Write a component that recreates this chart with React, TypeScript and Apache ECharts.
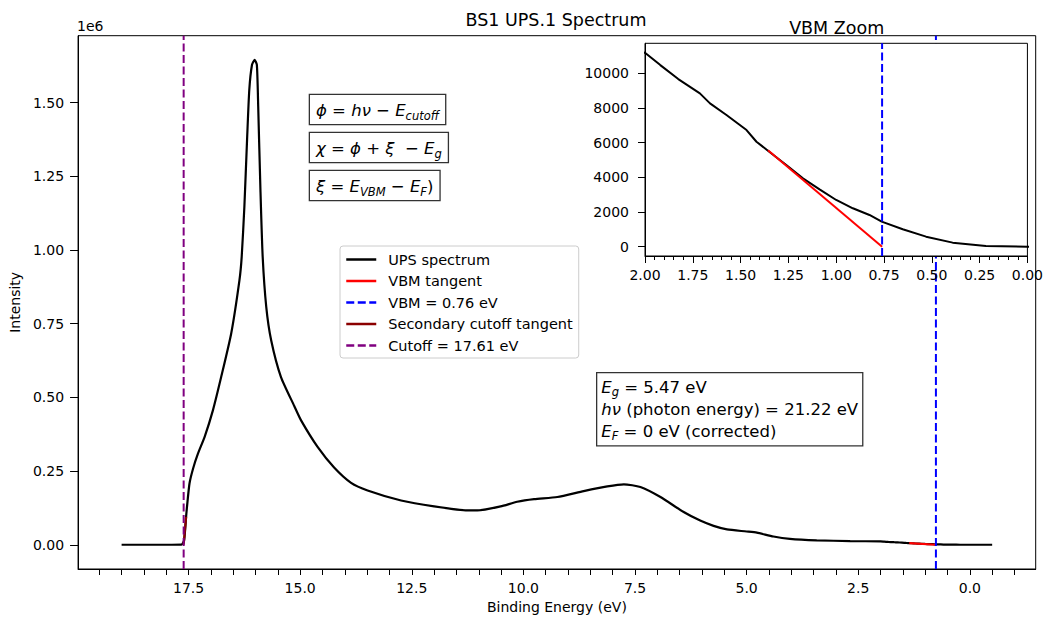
import React, { useEffect, useRef } from "react";
import * as echarts from "echarts";

// ---- data ----
const energy = [
  19.0, 18.5, 18.0, 17.66, 17.6, 17.55, 17.48, 17.4, 17.29, 17.14, 16.955, 16.77, 16.545,
  16.36, 16.31, 16.25, 16.19, 16.14, 16.08, 16.02, 15.97, 15.94, 15.89, 15.84, 15.76, 15.65,
  15.43, 15.13, 14.98, 14.61, 14.24, 13.86, 13.49, 12.74, 12.0, 11.25, 11.03, 10.51, 10.14,
  9.76, 9.24, 8.65, 8.12, 7.75, 7.38, 6.93, 6.41, 6.04, 5.74, 5.44, 5.0, 4.77, 4.4, 4.03,
  3.43, 2.68, 2.0, 1.92, 1.826, 1.713, 1.66, 1.574, 1.469, 1.417, 1.357, 1.261, 1.174, 1.087,
  1.0, 0.913, 0.826, 0.762, 0.652, 0.53, 0.391, 0.217, 0.0, -0.25, -0.5,
];
const intensity = [
  0, 0, 0, 500, 15000, 105000, 207000, 258000, 309000, 366000, 456000, 569000, 717000,
  898000, 977000, 1147000, 1373000, 1543000, 1628000, 1645000, 1628000, 1486000, 1203000, 977000, 807000, 694000,
  569000, 470000, 422000, 332000, 262000, 210000, 184000, 150000, 130000, 116500, 116500, 130000, 146000,
  155000, 162000, 182000, 198000, 205000, 196000, 162000, 111000, 82000, 64000, 52000, 45000, 41000, 28000, 20000,
  15000, 12500, 11182, 10473, 9666, 8841, 8265, 7591, 6726, 6052, 5533, 4709, 3942, 3308,
  2692, 2213, 1827, 1441, 1003, 576, 231, 40, 0, 0, 0,
];
const vbmTangentE = [1.357, 0.76];
const vbmTangentI = [5560, 0];
const cutoffTangentE = [17.61, 17.555];
const cutoffTangentI = [0, 95000];
const VBM = 0.76;
const CUTOFF = 17.61;

const xLabelValues = [17.5, 15, 12.5, 10, 7.5, 5, 2.5, 0];
const yLabelValues = [0, 250000, 500000, 750000, 1000000, 1250000, 1500000];
const insetYLabelValues = [0, 2000, 4000, 6000, 8000, 10000];

const X_MIN = -1.475;
const X_MAX = 19.975;
const Y_MIN = -82250;
const Y_MAX = 1727250;
const INSET_X_MIN = 0;
const INSET_X_MAX = 2;
const INSET_Y_MIN = -540;
const INSET_Y_MAX = 11730;

const xMinorTicks: number[] = [];
for (let k = -2; k <= 39; k++) xMinorTicks.push(k * 0.5);

const FONT = "DejaVu Sans";

const spectrum = energy.map((e, i) => [e, intensity[i]]);
const vbmTangent = vbmTangentE.map((e, i) => [e, vbmTangentI[i]]);
const cutoffTangent = cutoffTangentE.map((e, i) => [e, cutoffTangentI[i]]);

export default function App() {
  const ref = useRef<HTMLDivElement>(null);
  useEffect(() => {
    if (!ref.current) return;
    const chart = echarts.init(ref.current, null, { renderer: "svg" });
    const axisText = { fontFamily: FONT, fontSize: 14, color: "#000" };
    const axisLine = { show: true, onZero: false, lineStyle: { color: "#000", width: 1 } };
    const formulaBase = {
      fontFamily: FONT,
      fontSize: 16.5,
      lineHeight: 24,
      fill: "#000",
      backgroundColor: "#fff",
      borderColor: "#333",
      borderWidth: 1.3,
      padding: [3, 6, 2, 6],
      align: "left",
      textAlign: "left",
      verticalAlign: "top",
      textVerticalAlign: "top",
      rich: {
        i: { fontFamily: FONT, fontStyle: "italic", fontSize: 16.5, lineHeight: 24 },
        s: { fontFamily: FONT, fontStyle: "italic", fontSize: 11.5, lineHeight: 13, verticalAlign: "bottom" },
      },
    };
    const option: any = {
      animation: false,
      backgroundColor: "#fff",
      grid: [
        { left: 76, top: 35.7, width: 959.7, height: 533.6, show: true, borderColor: "#000", borderWidth: 1, backgroundColor: "transparent", z: 0 },
        { left: 645, top: 43.3, width: 383.3, height: 212.7, show: true, borderColor: "#000", borderWidth: 1, backgroundColor: "#fff", z: 5 },
      ],
      xAxis: [
        {
          type: "value", gridIndex: 0, min: X_MIN, max: X_MAX, inverse: true,
          axisLine,
          axisTick: { show: true, customValues: xMinorTicks, length: 6, lineStyle: { color: "#000", width: 1 } },
          axisLabel: { customValues: xLabelValues, formatter: (v: number) => v.toFixed(1), margin: 12, ...axisText },
          splitLine: { show: false },
          name: "Binding Energy (eV)", nameLocation: "middle", nameGap: 31,
          nameTextStyle: { fontFamily: FONT, fontSize: 14, color: "#000" },
        },
        {
          type: "value", gridIndex: 1, min: INSET_X_MIN, max: INSET_X_MAX, interval: 0.25, inverse: true, z: 7,
          axisLine,
          axisTick: { show: true, length: 7, lineStyle: { color: "#000", width: 1 } },
          minorTick: { show: true, splitNumber: 5, length: 4, lineStyle: { color: "#000", width: 1 } },
          axisLabel: { formatter: (v: number) => v.toFixed(2), margin: 12, ...axisText },
          splitLine: { show: false },
        },
      ],
      yAxis: [
        {
          type: "value", gridIndex: 0, min: Y_MIN, max: Y_MAX,
          axisLine,
          axisTick: { show: true, customValues: yLabelValues, length: 8, lineStyle: { color: "#000", width: 1 } },
          axisLabel: { customValues: yLabelValues, formatter: (v: number) => (v / 1e6).toFixed(2), margin: 14, ...axisText },
          splitLine: { show: false },
          name: "Intensity", nameLocation: "middle", nameGap: 50,
          nameTextStyle: { fontFamily: FONT, fontSize: 14, color: "#000" },
        },
        {
          type: "value", gridIndex: 1, min: INSET_Y_MIN, max: INSET_Y_MAX, z: 7,
          axisLine,
          axisTick: { show: true, customValues: insetYLabelValues, length: 7, lineStyle: { color: "#000", width: 1 } },
          axisLabel: { customValues: insetYLabelValues, formatter: (v: number) => String(v), margin: 16, ...axisText },
          splitLine: { show: false },
        },
      ],
      legend: {
        data: ["UPS spectrum", "VBM tangent", "VBM = 0.76 eV", "Secondary cutoff tangent", "Cutoff = 17.61 eV"],
        orient: "vertical", left: 340, top: 246,
        padding: [6, 6, 5, 5], itemWidth: 30, itemHeight: 14, itemGap: 6.5,
        itemStyle: { opacity: 0 },
        lineStyle: { width: 2.5 },
        textStyle: { fontFamily: FONT, fontSize: 14.5, color: "#000", padding: [0, 0, 0, 7] },
        borderColor: "#cccccc", borderWidth: 1, borderRadius: 3,
        backgroundColor: "rgba(255,255,255,0.8)", selectedMode: false, z: 4,
      },
      series: [
        { name: "UPS spectrum", type: "line", xAxisIndex: 0, yAxisIndex: 0, data: spectrum, symbol: "none", smooth: 0.2, lineStyle: { color: "#000", width: 2.2 }, itemStyle: { color: "#000" }, z: 2 },
        { name: "VBM tangent", type: "line", xAxisIndex: 0, yAxisIndex: 0, data: vbmTangent, symbol: "none", lineStyle: { color: "#ff0000", width: 2.2 }, itemStyle: { color: "#ff0000" }, z: 3 },
        { name: "VBM = 0.76 eV", type: "line", xAxisIndex: 0, yAxisIndex: 0, data: [[VBM, Y_MIN], [VBM, Y_MAX]], symbol: "none", lineStyle: { color: "#0000ff", width: 2, type: [8, 3.5] }, itemStyle: { color: "#0000ff" }, z: 3 },
        { name: "Secondary cutoff tangent", type: "line", xAxisIndex: 0, yAxisIndex: 0, data: cutoffTangent, symbol: "none", lineStyle: { color: "#8b0000", width: 2.2 }, itemStyle: { color: "#8b0000" }, z: 3 },
        { name: "Cutoff = 17.61 eV", type: "line", xAxisIndex: 0, yAxisIndex: 0, data: [[CUTOFF, Y_MIN], [CUTOFF, Y_MAX]], symbol: "none", lineStyle: { color: "#800080", width: 2, type: [8, 3.5] }, itemStyle: { color: "#800080" }, z: 3 },
        { name: "inset spectrum", type: "line", xAxisIndex: 1, yAxisIndex: 1, data: spectrum, symbol: "none", lineStyle: { color: "#000", width: 2 }, z: 6 },
        { name: "inset tangent", type: "line", xAxisIndex: 1, yAxisIndex: 1, data: vbmTangent, symbol: "none", lineStyle: { color: "#ff0000", width: 2 }, z: 6 },
        { name: "inset vbm", type: "line", xAxisIndex: 1, yAxisIndex: 1, data: [[VBM, INSET_Y_MIN], [VBM, INSET_Y_MAX]], symbol: "none", lineStyle: { color: "#0000ff", width: 2, type: [8, 3.5] }, z: 6 },
      ],
      graphic: [
        { type: "text", z: 10, style: { text: "BS1 UPS.1 Spectrum", x: 556, y: 20, fontFamily: FONT, fontSize: 17.5, fill: "#000", align: "center", textAlign: "center", verticalAlign: "middle", textVerticalAlign: "middle" } },
        { type: "text", z: 10, style: { text: "VBM Zoom", x: 836.7, y: 28, fontFamily: FONT, fontSize: 17.5, fill: "#000", align: "center", textAlign: "center", verticalAlign: "middle", textVerticalAlign: "middle" } },
        { type: "text", z: 10, style: { text: "1e6", x: 77, y: 26, fontFamily: FONT, fontSize: 14, fill: "#000", align: "left", textAlign: "left", verticalAlign: "middle", textVerticalAlign: "middle" } },
        { type: "text", z: 10, style: { ...formulaBase, x: 310, y: 95, text: "{i|ϕ} = {i|hν} − {i|E}{s|cutoff}" } },
        { type: "text", z: 10, style: { ...formulaBase, x: 310, y: 133, text: "{i|χ} = {i|ϕ} + {i|ξ}  − {i|E}{s|g}" } },
        { type: "text", z: 10, style: { ...formulaBase, x: 310, y: 171, text: "{i|ξ} = {i|E}{s|VBM} − {i|E}{s|F})" } },
        {
          type: "text", z: 10,
          style: {
            x: 597.3, y: 373.3,
            text: "{i|E}{s|g} = 5.47 eV\n{i|hν} (photon energy) = 21.22 eV\n{i|E}{s|F} = 0 eV (corrected)",
            fontFamily: FONT, fontSize: 16.5, lineHeight: 22, fill: "#000",
            backgroundColor: "#fff", borderColor: "#333", borderWidth: 1.3, padding: [3, 4, 3, 4],
            align: "left", textAlign: "left", verticalAlign: "top", textVerticalAlign: "top",
            rich: {
              i: { fontFamily: FONT, fontStyle: "italic", fontSize: 16.5, lineHeight: 22 },
              s: { fontFamily: FONT, fontStyle: "italic", fontSize: 11.5, lineHeight: 12, verticalAlign: "bottom" },
            },
          },
        },
      ],
    };
    chart.setOption(option);
    return () => chart.dispose();
  }, []);
  return (
    <div
      ref={ref}
      style={{ position: "fixed", left: 0, top: 0, width: 1046, height: 619, background: "#fff" }}
    />
  );
}
